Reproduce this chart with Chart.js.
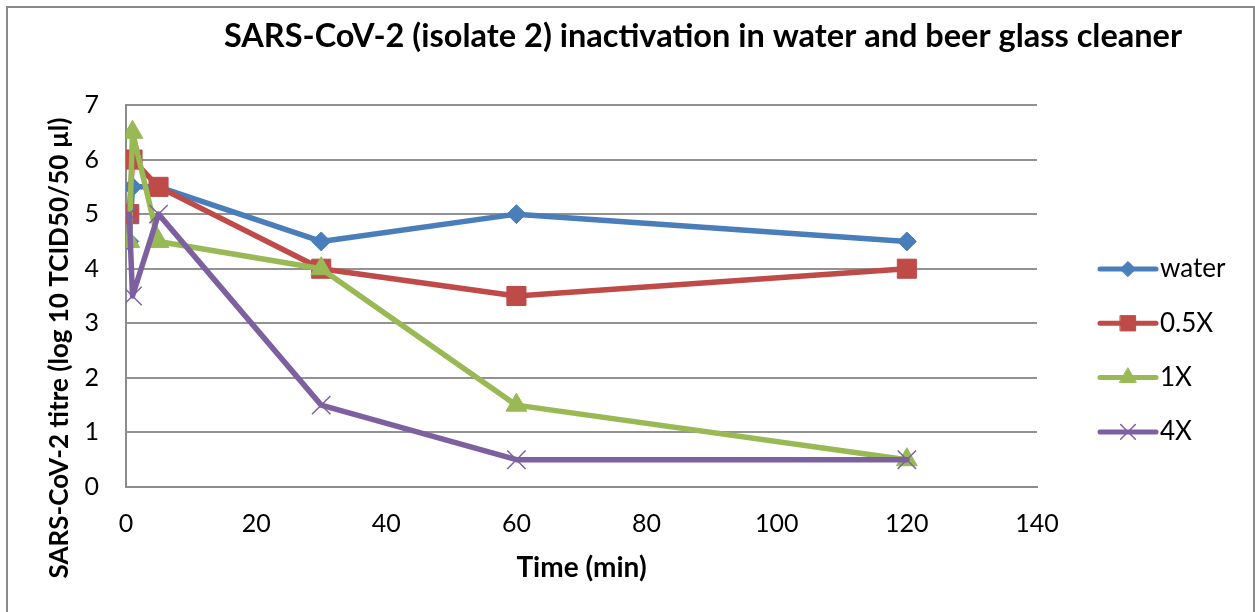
<!DOCTYPE html>
<html lang="en">
<head>
<meta charset="UTF-8">
<title>SARS-CoV-2 (isolate 2) inactivation</title>
<script src="https://cdn.jsdelivr.net/npm/chart.js"></script>
<style>
    html, body { margin: 0; padding: 0; background: #fff; overflow: hidden; }
    #frame {
        position: absolute; left: 6px; top: 6px;
        width: 1245px; height: 604px;
        border: 2px solid #8a8a8a; border-bottom: none;
    }
    canvas { display: block; }
</style>
</head>
<body>
<div id="frame"><canvas id="titreChart" width="1245" height="604"></canvas></div>
<script>
    // time points (min) and log10 titres
    const times = [0.5, 1, 5, 30, 60, 120];
    const water = [4.5, 5.5, 5.5, 4.5, 5, 4.5];
    const half = [5, 6, 5.5, 4, 3.5, 4];
    const oneX = [4.5, 6.5, 4.5, 4, 1.5, 0.5];
    const fourX = [5, 3.5, 5, 1.5, 0.5, 0.5];
    const seriesNames = ['water', '0.5X', '1X', '4X'];

    const chartTitle = 'SARS-CoV-2 (isolate 2) inactivation in water and beer glass cleaner';
    const yTitle = 'SARS-CoV-2 titre (log 10 TCID50/50 µl)';
    const xTitle = 'Time (min)';

    Chart.defaults.font.family = 'Lato';
    Chart.defaults.color = '#000';

    const toPoints = values => values.map((v, i) => ({ x: times[i], y: v }));

    function makeSeries(label, values, color, style, radius, markerBorder, order) {
        return {
            label: label,
            data: toPoints(values),
            borderColor: color,
            backgroundColor: color,
            borderWidth: 5.5,
            borderJoinStyle: 'round',
            borderCapStyle: 'round',
            tension: 0,
            pointStyle: style,
            pointRadius: radius,
            pointHoverRadius: radius,
            pointBorderWidth: markerBorder,
            pointBackgroundColor: color,
            pointBorderColor: color,
            order: order
        };
    }

    const datasets = [
        makeSeries(seriesNames[0], water, '#4A7EBB', 'rectRot', 9.5, 1, 4),
        makeSeries(seriesNames[1], half, '#BE4B48', 'rect', 13.5, 1, 3),
        makeSeries(seriesNames[2], oneX, '#98B954', 'triangle', 12, 1, 2),
        makeSeries(seriesNames[3], fourX, '#7D60A0', 'crossRot', 13, 1.5, 1)
    ];

    // main title and rotated y title, placed like the Excel original
    const titlesPlugin = {
        id: 'excelTitles',
        afterDraw(chart) {
            const ctx = chart.ctx;
            ctx.save();
            ctx.fillStyle = '#000';
            ctx.textAlign = 'center';
            ctx.textBaseline = 'middle';
            ctx.font = 'bold 32.5px Lato';
            ctx.fillText(chartTitle, 695, 29);
            ctx.translate(52, 340);
            ctx.rotate(-Math.PI / 2);
            ctx.font = 'bold 26px Lato';
            ctx.fillText(yTitle, 0, 0);
            ctx.restore();
        }
    };

    // legend with a line segment and marker per series
    const legendPlugin = {
        id: 'lineLegend',
        afterDraw(chart) {
            const ctx = chart.ctx;
            const area = chart.chartArea;
            const x0 = area.right + 63;
            const x1 = x0 + 56;
            ctx.save();
            chart.data.datasets.forEach((ds, i) => {
                const y = area.top + 164 + i * 54.3;
                ctx.strokeStyle = ds.borderColor;
                ctx.lineWidth = 5;
                ctx.lineCap = 'round';
                ctx.beginPath();
                ctx.moveTo(x0, y);
                ctx.lineTo(x1, y);
                ctx.stroke();
                ctx.fillStyle = ds.pointBackgroundColor;
                ctx.strokeStyle = ds.pointBorderColor;
                ctx.lineWidth = ds.pointBorderWidth;
                Chart.helpers.drawPoint(ctx, {
                    pointStyle: ds.pointStyle,
                    radius: ds.pointRadius * 0.8,
                    rotation: 0,
                    borderWidth: ds.pointBorderWidth
                }, (x0 + x1) / 2, y);
                ctx.fillStyle = '#000';
                ctx.font = '26px Lato';
                ctx.textAlign = 'left';
                ctx.textBaseline = 'middle';
                ctx.fillText(ds.label, x1 + 4, y);
            });
            ctx.restore();
        }
    };

    new Chart(document.getElementById('titreChart').getContext('2d'), {
        type: 'line',
        data: { datasets: datasets },
        plugins: [titlesPlugin, legendPlugin],
        options: {
            responsive: false,
            animation: false,
            layout: { padding: { top: 97, right: 216, bottom: 0, left: 0 } },
            plugins: {
                legend: { display: false },
                title: { display: false },
                tooltip: { enabled: false }
            },
            scales: {
                x: {
                    type: 'linear',
                    min: 0,
                    max: 140,
                    ticks: { stepSize: 20, padding: 22, font: { size: 25 }, maxRotation: 0 },
                    grid: { display: false, drawTicks: false },
                    border: { display: true, color: '#8c8c8c', width: 2 },
                    title: {
                        display: true,
                        text: xTitle,
                        font: { size: 28, weight: 'bold' },
                        padding: { top: 4, bottom: 27 }
                    },
                    afterFit: scale => { scale.height = 125; }
                },
                y: {
                    min: 0,
                    max: 7,
                    ticks: { stepSize: 1, padding: 27, font: { size: 25 } },
                    grid: { color: '#929292', lineWidth: 2, drawTicks: false },
                    border: { display: true, color: '#8c8c8c', width: 2 },
                    afterFit: scale => { scale.width = 118; }
                }
            }
        }
    });
</script>
</body>
</html>
